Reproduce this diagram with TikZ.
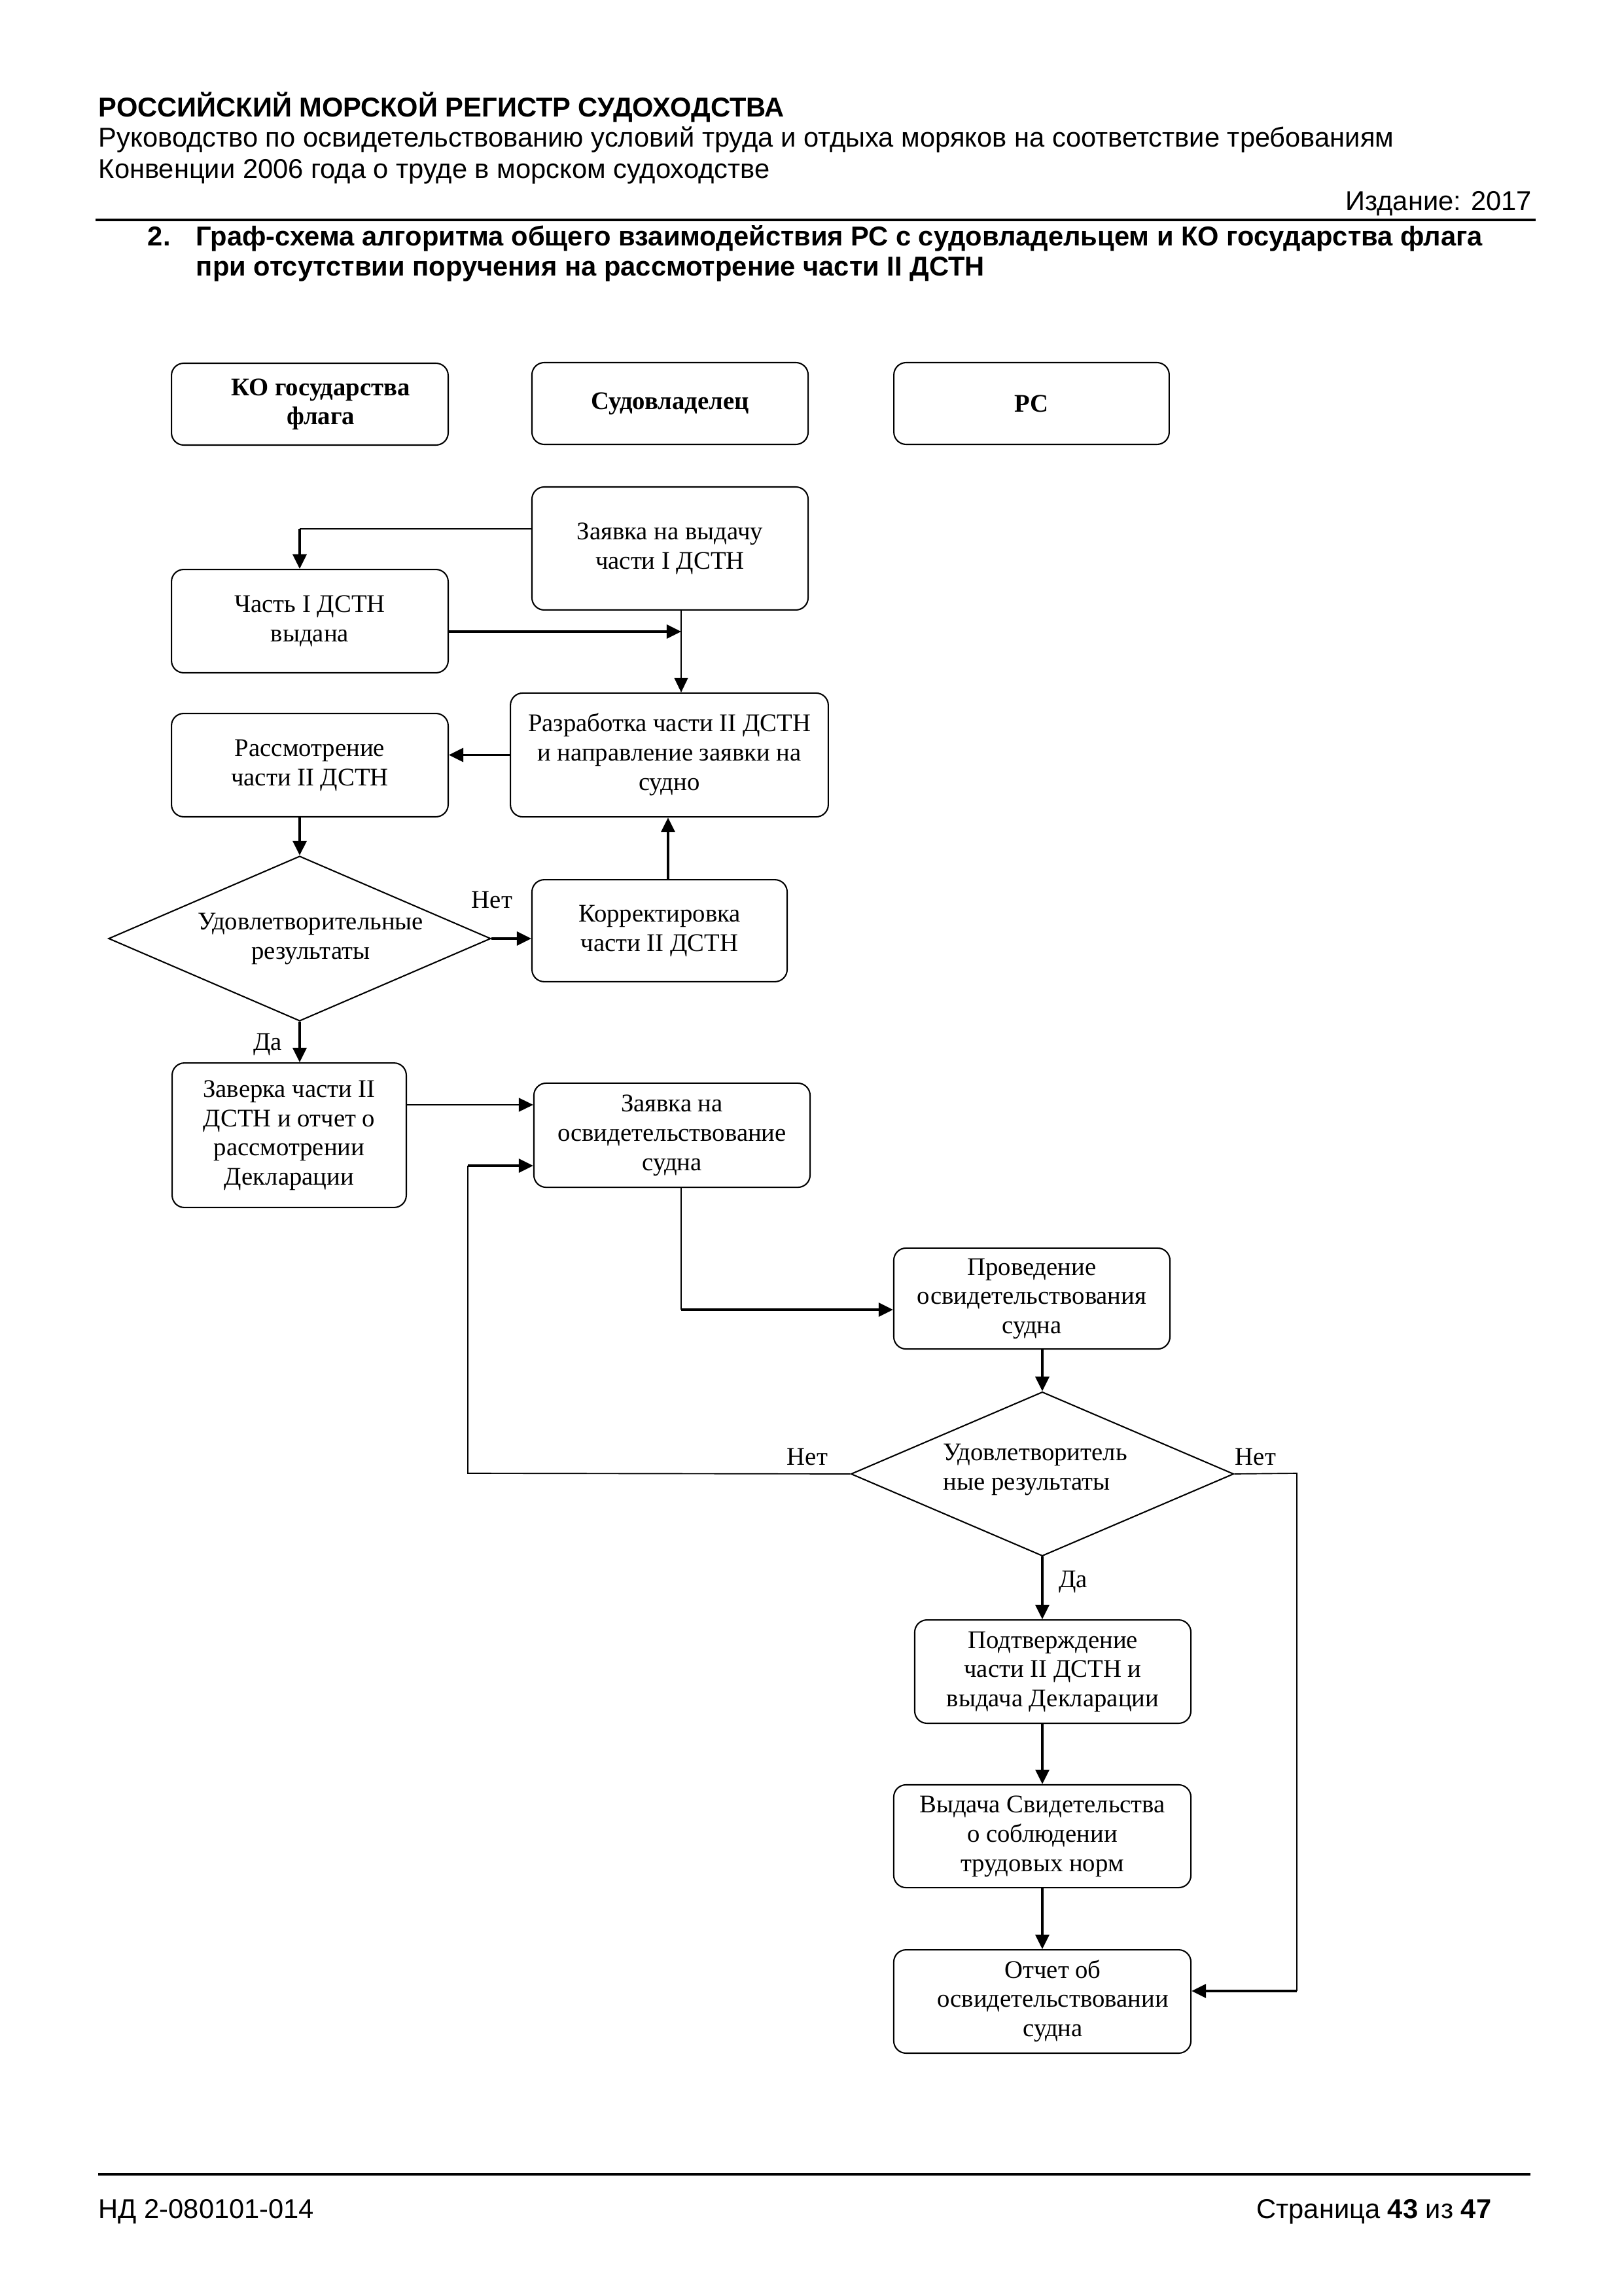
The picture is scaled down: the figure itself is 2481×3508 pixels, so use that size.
\documentclass[tikz,border=0pt]{standalone}
\usepackage{fontspec}
\setmainfont{Liberation Serif}
\newfontfamily\hdrfont{Liberation Sans}
\usetikzlibrary{shapes.geometric,arrows.meta,calc}
\newcommand\tb[1]{\begin{tabular}{@{}c@{}}#1\end{tabular}}
\newcommand\tbl[1]{\begin{tabular}{@{}l@{}}#1\end{tabular}}
\begin{document}
\begin{tikzpicture}[x=0.24pt,y=-0.24pt,
  hd/.style={font=\hdrfont\fontsize{10}{11.5}\selectfont, inner sep=0pt, anchor=base west},
  hdb/.style={hd, font=\hdrfont\bfseries\fontsize{10}{11.5}\selectfont},
  dfont/.style={font=\fontsize{9.3}{10.7}\selectfont},
  box/.style={draw, line width=0.5pt, rounded corners=4.5pt, inner sep=0pt, dfont},
  hbox/.style={box, font=\bfseries\fontsize{9.3}{10.7}\selectfont},
  dia/.style={draw, line width=0.5pt, diamond, inner sep=0pt, dfont},
  lbl/.style={dfont, inner sep=0pt},
  thn/.style={line width=0.4pt},
  mid/.style={line width=0.6pt},
  thk/.style={line width=0.9pt},
  arr/.style={-{Triangle[length=5.3pt,width=5pt]}},
]
\useasboundingbox (0,0) rectangle (2481,3508);
% header
\node[hdb] (h1) at (150,179) {РОССИЙСКИЙ МОРСКОЙ РЕГИСТР СУДОХОДСТВА};
\node[hd] (h2) at (150,225) {Руководство по освидетельствованию условий труда и отдыха моряков на соответствие требованиям};
\node[hd] (h3) at (150,273) {Конвенции 2006 года о труде в морском судоходстве};
\node[hd, anchor=base east] (h4) at (2342,322) {Издание: 2017};
\coordinate (r1a) at (146,336); \coordinate (r1b) at (2347,336);
\draw[line width=1pt] (r1a) -- (r1b);
\node[hdb] (t0) at (225,376) {2.};
\node[hdb] (t1) at (299,376) {Граф-схема алгоритма общего взаимодействия РС с судовладельцем и КО государства флага};
\node[hdb] (t2) at (299,422) {при отсутствии поручения на рассмотрение части II ДСТН};
% footer
\coordinate (r2a) at (150,3322); \coordinate (r2b) at (2339,3322);
\draw[line width=0.8pt] (r2a) -- (r2b);
\node[hd] (f1) at (150,3389) {НД 2-080101-014};
\node[hd, anchor=base east] (f2) at (2280,3389) {Страница \textbf{43} из \textbf{47}};
% boxes
\node[hbox, minimum width=101.5pt, minimum height=30pt] (ko) at (473.5,617.5) {\hspace{8pt}\tb{КО государства\\флага}};
\node[hbox, minimum width=101.3pt, minimum height=30pt] (own) at (1024,616.5) {Судовладелец};
\node[hbox, minimum width=101pt, minimum height=30pt] (rs) at (1576.5,616.5) {РС};
\node[box, minimum width=101.3pt, minimum height=45.1pt] (zv) at (1024,838) {\tb{Заявка на выдачу\\части I ДСТН}};
\node[box, minimum width=101.5pt, minimum height=37.9pt] (ch1) at (473.5,949) {\raisebox{5pt}{\tb{Часть I ДСТН\\выдана}}};
\node[box, minimum width=116.6pt, minimum height=45.4pt] (razr) at (1023,1153.5) {\raisebox{3pt}{\tb{Разработка части II ДСТН\\и направление заявки на\\судно}}};
\node[box, minimum width=101.5pt, minimum height=37.9pt] (rasm) at (473.5,1169) {\raisebox{4.6pt}{\tb{Рассмотрение\\части II ДСТН}}};
\node[box, minimum width=93.6pt, minimum height=37.4pt] (korr) at (1008,1422) {\raisebox{-3pt}{\tb{Корректировка\\части II ДСТН}}};
\node[dia, minimum width=140.2pt, minimum height=60.5pt, label={[lbl, xshift=4pt]center:\tb{Удовлетворительные\\результаты}}] (d1) at (458,1434) {};
\node[box, minimum width=85.9pt, minimum height=53pt] (zav) at (442,1734.5) {\tb{Заверка части II\\ДСТН и отчет о\\рассмотрении\\Декларации}};
\node[box, minimum width=101.3pt, minimum height=38.2pt] (zos) at (1027,1734.5) {\tb{Заявка на\\освидетельствование\\судна}};
\node[box, minimum width=101.3pt, minimum height=37pt] (prov) at (1577,1984) {\tb{Проведение\\освидетельствования\\судна}};
\node[dia, minimum width=140.4pt, minimum height=60.2pt, label={[lbl, xshift=-2.6pt, yshift=1.7pt]center:\tbl{Удовлетворитель\\ные результаты}}] (d2) at (1593,2252) {};
\node[box, minimum width=101.3pt, minimum height=37.9pt] (podt) at (1609,2554) {\tb{Подтверждение\\части II ДСТН и\\выдача Декларации}\hspace{14.8pt}};
\node[box, minimum width=109pt, minimum height=37.7pt] (vyd) at (1593,2805.5) {\tb{Выдача Свидетельства\\о соблюдении\\трудовых норм}};
\node[box, minimum width=109pt, minimum height=37.9pt] (otch) at (1593,3058) {\hspace{7.7pt}\tb{Отчет об\\освидетельствовании\\судна}};
% labels
\node[lbl] (n1) at (752,1375) {Нет};
\node[lbl] (y1) at (409,1596) {Да};
\node[lbl] (n2) at (1234,2226) {Нет};
\node[lbl] (n3) at (1919,2226) {Нет};
\node[lbl] (y2) at (1640,2417) {Да};
% coordinates
\coordinate (c1) at (458,808);
\coordinate (j1) at (1041,965);
\coordinate (j2) at (1021,1300);
\coordinate (c2) at (700,1688);
\coordinate (c3) at (715,1781);
\coordinate (c4) at (715,2251);
\coordinate (c5) at (1041,2001);
\coordinate (c6) at (1982,2251);
\coordinate (c7) at (1982,3042);
% connectors
\draw[thn] (zv.west |- c1) -- (c1);
\draw[thk,arr] (c1) -- (ch1.north -| c1);
\draw[thk,arr] (ch1.east |- j1) -- (j1);
\draw[thn,arr] (zv.south -| j1) -- (razr.north -| j1);
\draw[thk,arr] (razr.west) -- (razr.west -| rasm.east);
\draw[thk,arr] (rasm.south -| d1) -- (d1.north);
\draw[thk,arr] (d1.east) -- (d1.east -| korr.west);
\draw[thk,arr] (korr.north -| j2) -- (razr.south -| j2);
\draw[thk,arr] (d1.south) -- (zav.north -| d1);
\draw[mid,arr] (zav.east |- c2) -- (zos.west |- c2);
\draw[thn] (d2.west) -- (c4) -- (c3);
\draw[thk,arr] (c3) -- (zos.west |- c3);
\draw[thn] (zos.south -| c5) -- (c5);
\draw[thk,arr] (c5) -- (prov.west |- c5);
\draw[thk,arr] (prov.south -| d2) -- (d2.north);
\draw[thk,arr] (d2.south) -- (podt.north -| d2);
\draw[thk,arr] (podt.south -| d2) -- (vyd.north -| d2);
\draw[thk,arr] (vyd.south -| d2) -- (otch.north -| d2);
\draw[thn] (d2.east) -- (c6) -- (c7);
\draw[thk,arr] (c7) -- (otch.east |- c7);
\end{tikzpicture}
\end{document}
